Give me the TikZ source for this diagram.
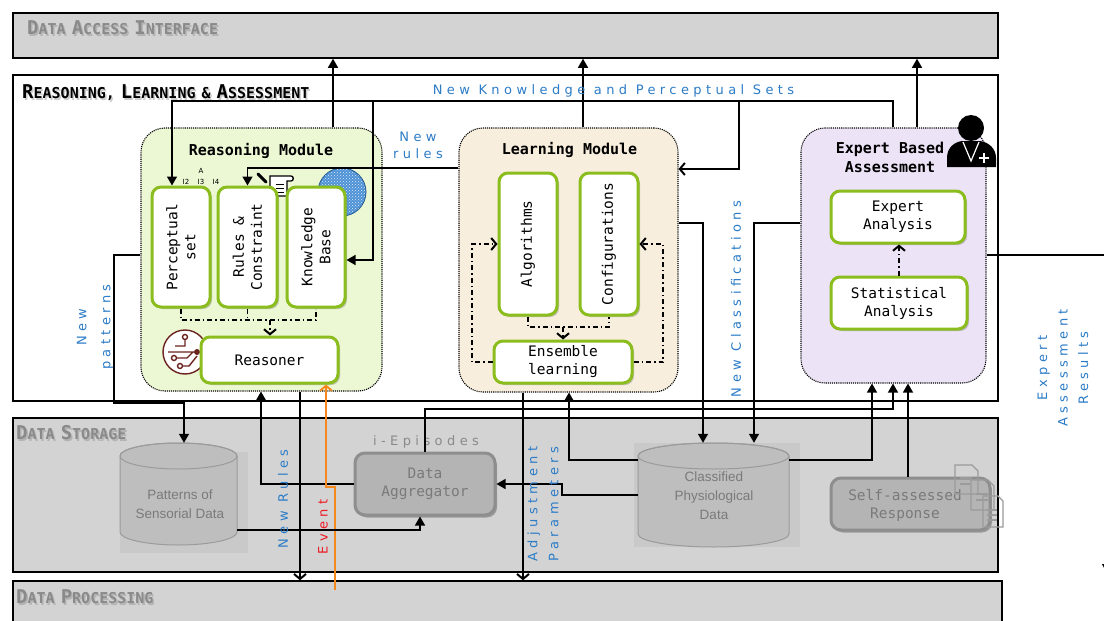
\documentclass[tikz,border=0pt]{standalone}
\usepackage{fontspec}
\setmainfont{DejaVu Sans}
\newfontfamily\mono{DejaVu Sans Mono}
\newfontfamily\spaced[LetterSpace=34]{DejaVu Sans}
\newfontfamily\helv{Liberation Sans}
\usetikzlibrary{arrows.meta,shadows,patterns}

\definecolor{laygray}{HTML}{D3D3D3}
\definecolor{ggreen}{HTML}{8BBD1E}
\definecolor{rmfill}{HTML}{ECF8D4}
\definecolor{lmfill}{HTML}{F8EEDD}
\definecolor{emfill}{HTML}{EDE3F7}
\definecolor{blueT}{HTML}{2C7CC7}
\definecolor{orangeL}{HTML}{F5891F}
\definecolor{redT}{HTML}{ED1C24}
\definecolor{cylfill}{HTML}{BEBEBE}
\definecolor{cylline}{HTML}{9B9B9B}
\definecolor{backdrop}{HTML}{C9C9C9}
\definecolor{dafill}{HTML}{B4B4B4}
\definecolor{daline}{HTML}{8E8E8E}
\definecolor{graytext}{HTML}{7A7A7A}
\definecolor{titlegray}{HTML}{8A8A8A}
\definecolor{brainc}{HTML}{6B2320}
\definecolor{globeblue}{HTML}{2F7FCF}

% fake small capitals for the layer titles
\newcommand\capword[2]{{\fontsize{19}{19}\selectfont #1}{\fontsize{15}{15}\selectfont #2}}

\tikzset{
  layer/.style={draw=black, line width=1.5pt, fill=laygray, inner sep=0pt},
  module/.style={draw=black, densely dotted, line width=1.1pt, rounded corners=24pt, inner sep=0pt},
  ibox/.style={draw=ggreen, line width=3pt, fill=white, rounded corners=9pt, inner sep=0pt,
    drop shadow={shadow xshift=2pt, shadow yshift=-2pt, opacity=0.3, fill=black!70}},
  gbox/.style={draw=daline, line width=3pt, fill=dafill, rounded corners=10pt, inner sep=0pt,
    drop shadow={shadow xshift=2pt, shadow yshift=-2.5pt, opacity=0.35, fill=black!80}},
  boxtext/.style={font=\mono\fontsize{14.5}{18}\selectfont, align=center, inner sep=0pt},
  modtitle/.style={font=\mono\bfseries\fontsize{15}{19}\selectfont, align=center, inner sep=0pt},
  bluelabel/.style={font=\spaced\fontsize{13}{17}\selectfont, text=blueT, align=center, inner sep=0pt},
  laytitle/.style={font=\mono\bfseries, anchor=west, inner sep=0pt},
  arr/.style={line width=1.4pt, -{Triangle[length=9pt,width=10pt]}},
  oarr/.style={line width=1.4pt, -{Straight Barb[length=5pt,width=12pt,line width=2pt]}},
  evarr/.style={line width=1.4pt, draw=orangeL, -{Straight Barb[length=5pt,width=12pt,line width=2pt]}},
  dd/.style={line width=1.2pt, dash pattern=on 5pt off 3pt on 1.5pt off 3pt},
  ddarr/.style={dd, -{Straight Barb[length=5pt,width=12pt,line width=2pt]}},
  cyl/.style={fill=cylfill, draw=cylline, line width=1pt},
  cyltext/.style={font=\helv\fontsize{13.5}{19}\selectfont, text=graytext, align=center, inner sep=0pt},
  brain/.style={draw=brainc, line width=1.4pt},
}

\begin{document}
\begin{tikzpicture}[x=1pt,y=-1pt]
\useasboundingbox (0,0) rectangle (1104,621);
\clip (0,0) rectangle (1104,621);
\fill[white] (0,0) rectangle (1104,621);

% ---------- layers ----------
\node[layer, minimum width=985pt, minimum height=45pt] (dai) at (505.5,35.5) {};
\node[layer, fill=white, minimum width=985pt, minimum height=326pt] (rla) at (505.5,238) {};
\node[layer, minimum width=985pt, minimum height=154pt] (ds) at (505.5,495) {};
\node[layer, minimum width=989pt, minimum height=59pt] (dp) at (507.5,610.5) {};

\node[laytitle, text=black, opacity=0.15] at (28.5,29.5) {\capword{D}{ATA} \capword{A}{CCESS} \capword{I}{NTERFACE}};
\node[laytitle, text=titlegray] (daititle) at (27,28) {\capword{D}{ATA} \capword{A}{CCESS} \capword{I}{NTERFACE}};
\node[laytitle, text=black, opacity=0.2] at (23.5,94.5) {\capword{R}{EASONING,} \capword{L}{EARNING} {\fontsize{15}{15}\selectfont\&} \capword{A}{SSESSMENT}};
\node[laytitle, text=black] (rlatitle) at (22,93) {\capword{R}{EASONING,} \capword{L}{EARNING} {\fontsize{15}{15}\selectfont\&} \capword{A}{SSESSMENT}};
\node[laytitle, text=black, opacity=0.15] at (17.5,434.5) {\capword{D}{ATA} \capword{S}{TORAGE}};
\node[laytitle, text=titlegray] (dstitle) at (16,433) {\capword{D}{ATA} \capword{S}{TORAGE}};
\node[laytitle, text=black, opacity=0.15] at (17.5,598.5) {\capword{D}{ATA} \capword{P}{ROCESSING}};
\node[laytitle, text=titlegray] (dptitle) at (16,597) {\capword{D}{ATA} \capword{P}{ROCESSING}};

% ---------- modules ----------
\node[module, fill=rmfill, minimum width=241pt, minimum height=263pt] (rm) at (261.5,259.5) {};
\node[module, fill=lmfill, minimum width=219pt, minimum height=264pt] (lm) at (568.5,260) {};
\node[module, fill=emfill, minimum width=185pt, minimum height=255pt] (em) at (893.5,255.5) {};

\node[modtitle] (rmtitle) at (261,151) {Reasoning Module};
\node[modtitle] (lmtitle) at (569.5,150) {Learning Module};
\node[modtitle] (emtitle) at (890,157.5) {Expert Based\\Assessment};

% ---------- icons ----------
% perceptual indices
\node[font=\fontsize{7}{7}\selectfont, inner sep=0pt] (iA) at (201,171) {A};
\node[font=\fontsize{7}{7}\selectfont, inner sep=0pt] (i2) at (186,182) {I2};
\node[font=\fontsize{7}{7}\selectfont, inner sep=0pt] (i3) at (201,182) {I3};
\node[font=\fontsize{7}{7}\selectfont, inner sep=0pt] (i4) at (216,182) {I4};
% script with pen
\draw[line width=3pt, line cap=round] (258,174) -- (266,182);
\draw[line width=1.3pt, fill=white] (270,176) -- (291,176) .. controls (294,176) and (294,181) .. (291,181) -- (287,181) -- (287,196) -- (270,196) -- cycle;
\draw[line width=1pt] (276,184) -- (284,184) (276,188) -- (284,188) (276,192) -- (284,192);
% globe
\fill[globeblue!85] (342,192) circle (24);
\fill[pattern=crosshatch dots, pattern color=white!85!globeblue] (342,192) circle (24);
\draw[globeblue!70!black, line width=0.8pt] (342,192) circle (24);
% circuit brain
\draw[brain, fill=white] (185,352) circle (22);
\draw[brain] (185,337) circle (2.5) (185,339.5) -- (185,346) -- (175,346)
  (168,352) -- (197,352) (174,358) circle (2.5) (176.5,358) -- (187,358) -- (193,352)
  (180,366) circle (2.5) (182.5,366) -- (189,366) -- (197,356);
\fill[brainc] (197,352) circle (3);

% ---------- inner boxes ----------
\node[ibox, minimum width=58pt, minimum height=120pt] (ps) at (181,247) {};
\node[ibox, minimum width=59pt, minimum height=120pt] (rc) at (247.5,247) {};
\node[ibox, minimum width=58pt, minimum height=120pt] (kb) at (316,247) {};
\node[ibox, minimum width=137pt, minimum height=46pt] (rs) at (269.5,360) {};
\node[boxtext, rotate=90] at (ps) {Perceptual\\set};
\node[boxtext, rotate=90] at (rc) {Rules \&\\Constraint};
\node[boxtext, rotate=90] at (kb) {Knowledge\\Base};
\node[boxtext] at (rs) {Reasoner};

\node[ibox, minimum width=58pt, minimum height=142pt] (al) at (528,244) {};
\node[ibox, minimum width=58pt, minimum height=142pt] (cf) at (609,244) {};
\node[ibox, minimum width=138pt, minimum height=42pt] (en) at (563,362) {};
\node[boxtext, rotate=90] at (al) {Algorithms};
\node[boxtext, rotate=90] at (cf) {Configurations};
\node[boxtext] at (en) {Ensemble\\learning};

\node[ibox, minimum width=134pt, minimum height=52pt] (ea) at (898,217) {};
\node[ibox, minimum width=136pt, minimum height=52pt] (sa) at (899,303) {};
\node[boxtext] at (ea) {Expert\\Analysis};
\node[boxtext] at (sa) {Statistical\\Analysis};

% expert icon
\fill (971,128) circle (13);
\fill (947,167) -- (947,158) .. controls (947,147) and (955,142) .. (962,141) -- (980,141) .. controls (988,142) and (996,148) .. (996,158) -- (996,167) -- cycle;
\draw[white, line width=1.2pt] (963,142) -- (971,161) -- (979,142);
\draw[white, line width=2pt] (984,153) -- (984,163) (979,158) -- (989,158);

% ---------- data storage contents ----------
\fill[backdrop] (120,452) rectangle (248,553);
\fill[cyl] (120,456) -- (120,532) arc[start angle=180, end angle=0, x radius=58.5, y radius=13] -- (237,456) arc[start angle=0, end angle=-180, x radius=58.5, y radius=13] -- cycle;
\draw[cylline, line width=1pt] (178.5,456) ellipse [x radius=58.5, y radius=13];
\node[minimum width=117pt, minimum height=102pt, inner sep=0pt] (pc) at (178.5,494) {};
\node[cyltext] at (180,504) {Patterns of\\Sensorial Data};

\fill[backdrop] (634,443) rectangle (800,547);
\fill[cyl] (638,456) -- (638,534) arc[start angle=180, end angle=0, x radius=75.5, y radius=13] -- (789,456) arc[start angle=0, end angle=-180, x radius=75.5, y radius=13] -- cycle;
\draw[cylline, line width=1pt] (713.5,456) ellipse [x radius=75.5, y radius=13];
\node[minimum width=151pt, minimum height=104pt, inner sep=0pt] (cc) at (713.5,495) {};
\node[cyltext] at (714,496) {Classified\\Physiological\\Data};

\node[gbox, minimum width=140pt, minimum height=62pt] (da) at (425,484) {};
\node[boxtext, text=graytext] at (da) {Data\\Aggregator};
\node[font=\spaced\fontsize{13}{13}\selectfont, text=titlegray, inner sep=0pt] (iep) at (426,442) {i-Episodes};

\node[gbox, minimum width=159pt, minimum height=52pt] (sr) at (910.5,504) {};
\node[boxtext, text=graytext] at (905,505) {Self-assessed\\Response};
% document stack
\begin{scope}[draw=cylline, line width=1.2pt]
  \draw (955,465) -- (972,465) -- (978,471) -- (978,494) -- (955,494) -- cycle;
  \draw (971,480) -- (988,480) -- (994,486) -- (994,510) -- (971,510) -- cycle;
  \draw (983,496) -- (998,496) -- (1003,501) -- (1003,527) -- (983,527) -- cycle;
  \draw (960,478) -- (972,478) (960,484) -- (970,484) (976,494) -- (988,494) (976,500) -- (988,500)
        (987,510) -- (997,510) (987,515) -- (997,515) (987,520) -- (997,520);
\end{scope}

% ---------- connectors ----------
\draw[arr] (333,0 |- rm.north) -- (333,0 |- dai.south);
\draw[arr] (583,0 |- lm.north) -- (583,0 |- dai.south);
\draw[arr] (917,0 |- em.north) -- (917,0 |- dai.south);
% new knowledge and perceptual sets bus
\draw[arr] (893,0 |- em.north) |- (172,101) -- (172,0 |- ps.north);
\draw[arr] (373,101) |- (kb.east |- 0,260);
\draw[oarr] (739,101) |- (lm.east |- 0,169);
% new rules
\draw[arr] (lm.west |- 0,168) -| (rc.north);
% new patterns
\draw[arr] (rm.west |- 0,255) -| (114,403) -| (184,0 |- pc.north);
% aggregator feedback to reasoning
\draw[arr] (da.west) -| (261,0 |- rm.south);
\draw[oarr] (300,0 |- rm.south) -- (300,0 |- dp.north);
% event
\draw[evarr] (335,590) |- (326,487) -- (326,0 |- rs.south);
% aggregator to expert assessment
\draw[arr] (da.north) |- (893,409) -- (893,0 |- em.south);
% adjustment parameters
\draw[oarr] (523,0 |- lm.south) -- (523,0 |- dp.north);
\draw[arr] (cc.west |- 0,460) -| (569,0 |- lm.south);
\draw[arr] (cc.west |- 0,495) -| (562,484) -- (da.east);
\draw[arr] (pc.east |- 0,530) -| (420,0 |- da.south);
% classifications
\draw[arr] (lm.east |- 0,223) -| (703,0 |- cc.north);
\draw[arr] (em.west |- 0,223) -| (754,0 |- cc.north);
\draw[arr] (cc.east |- 0,460) -| (872,0 |- em.south);
\draw[arr] (sr.north -| 908,0) -- (908,0 |- em.south);
% expert assessment results
\draw[arr] (em.east |- 0,255) -- (1107,255) -- (1107,573);

% dash-dot internal flows
\draw[dd] (ps.south) -- (181,320) -| (kb.south);
\draw[dd] (rc.south) -- (247.5,320);
\draw[ddarr] (270,320) -- (270,0 |- rs.north);
\draw[dd] (al.south) |- (cf.south |- 0,327) -- (cf.south);
\draw[ddarr] (563,327) -- (en.north);
\draw[ddarr] (en.west) -| (472,244) -- (al.west);
\draw[ddarr] (en.east) -| (663,244) -- (cf.east);
\draw[ddarr] (sa.north) -- (sa.north |- ea.south);

% ---------- flow labels ----------
\node[bluelabel] (lknow) at (613.5,91) {New Knowledge and Perceptual Sets};
\node[bluelabel] (lrules) at (418,145) {New\\rules};
\node[bluelabel, rotate=90, font=\spaced\fontsize{13}{24}\selectfont] (lpat) at (95,327) {New\\patterns};
\node[bluelabel, rotate=90] (lnr) at (283,499) {New Rules};
\node[bluelabel, rotate=90, text=redT] (lev) at (323,527) {Event};
\node[bluelabel, rotate=90, font=\spaced\fontsize{13}{21}\selectfont] (ladj) at (543,504) {Adjustment\\Parameters};
\node[bluelabel, rotate=90] (lcls) at (736,299) {New Classifications};
\node[bluelabel, rotate=90, font=\spaced\fontsize{13}{20.5}\selectfont] (lear) at (1063,368) {Expert\\Assessment\\Results};
\end{tikzpicture}
\end{document}
